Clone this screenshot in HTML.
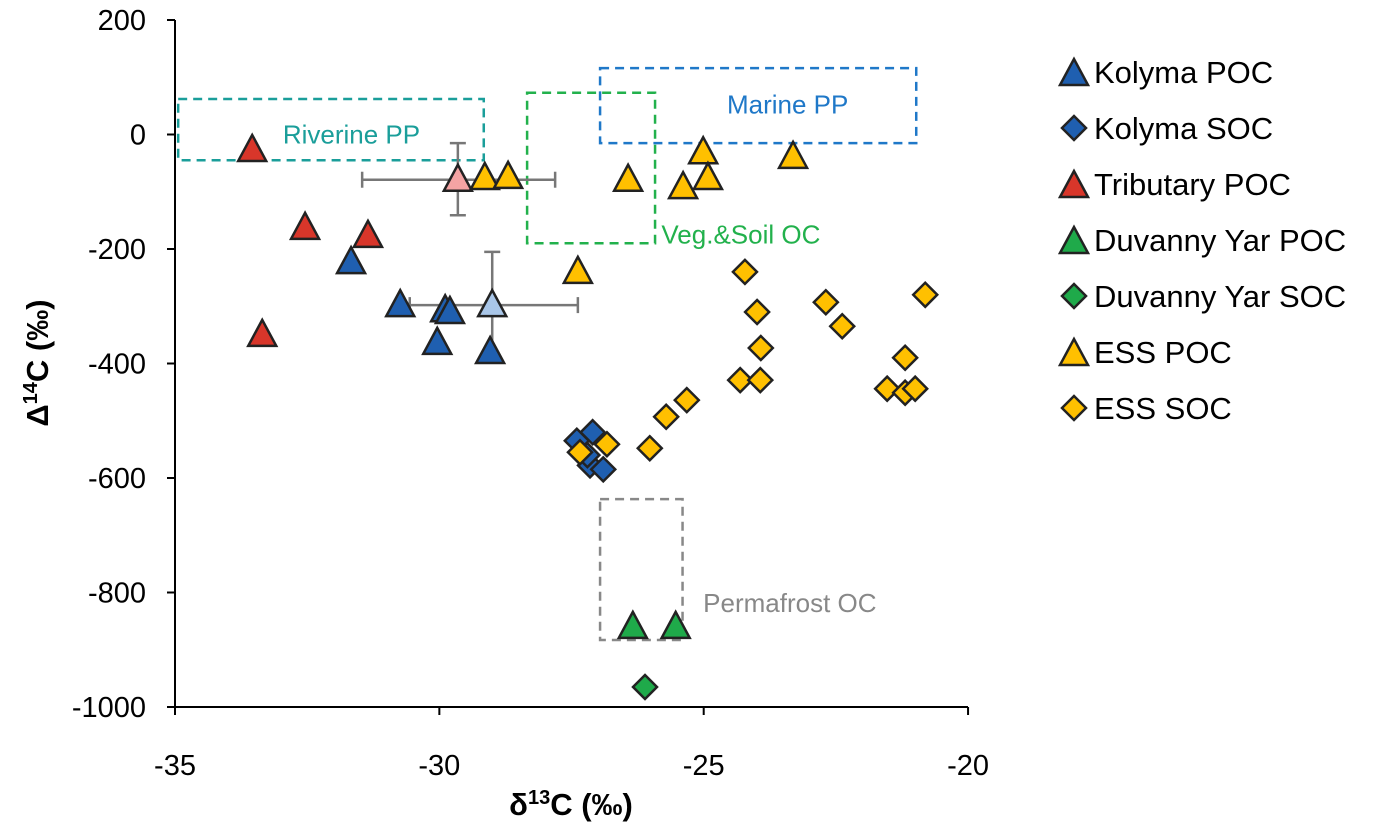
<!DOCTYPE html>
<html><head><meta charset="utf-8"><style>
body{margin:0;background:#fff;}
svg text{font-family:"Liberation Sans",sans-serif;}
</style></head><body>
<svg id="chart" width="1392" height="832" viewBox="0 0 1392 832"></svg>
<script>
const xTicks=[-35,-30,-25,-20];
const yTicks=[200,0,-200,-400,-600,-800,-1000];
const kolymaPOC=[[-31.67,-223],[-30.74,-298],[-29.89,-307],[-29.8,-310],[-30.04,-364],[-29.04,-380]];
const kolymaSOC=[[-27.4,-535],[-27.1,-520],[-27.15,-578],[-26.9,-585],[-27.2,-560]];
const tribPOC=[[-33.54,-27],[-32.54,-163],[-31.35,-177],[-33.35,-350]];
const dyPOC=[[-26.34,-860],[-25.53,-860]];
const dySOC=[[-26.11,-965]];
const essPOC=[[-29.14,-76],[-28.7,-74],[-26.43,-79],[-25.39,-92],[-25.01,-31],[-24.92,-76],[-23.31,-39],[-27.38,-240]];
const essSOC=[[-24.22,-240],[-23.99,-310],[-23.92,-373],[-24.31,-429],[-23.93,-429],[-22.69,-293],[-22.38,-335],[-21.19,-390],[-21.53,-444],[-21.19,-451],[-21.0,-444],[-20.81,-280],[-25.32,-464],[-25.71,-493],[-26.02,-548],[-26.83,-541],[-27.34,-555]];
const means=[{x:-29.65,y:-79,xlo:-31.46,xhi:-27.81,ylo:-141,yhi:-15,c:'#f4a3a3'},{x:-29.0,y:-298,xlo:-30.56,xhi:-27.38,ylo:-390,yhi:-205,c:'#a9c6e8'}];
const boxes=[{n:'Riverine PP',x0:-34.94,x1:-29.16,y0:-45,y1:62,c:'#1a9e9a',lx:-32.96,ly:0},{n:'Veg.&Soil OC',x0:-28.34,x1:-25.92,y0:-190,y1:73,c:'#22b14c',lx:-25.8,ly:-175},{n:'Marine PP',x0:-26.96,x1:-20.98,y0:-15,y1:116,c:'#1f78c8',lx:-24.56,ly:52},{n:'Permafrost OC',x0:-26.96,x1:-25.4,y0:-883,y1:-637,c:'#888',lx:-25.01,ly:-818}];
const X=v=>175+(v+35)*52.87, Y=v=>20+(200-v)*0.5725;
const s=document.getElementById('chart');const NS='http://www.w3.org/2000/svg';
function el(t,a,p){const e=document.createElementNS(NS,t);for(const k in a)e.setAttribute(k,a[k]);(p||s).appendChild(e);return e;}
boxes.forEach(b=>{const r=el('rect',{x:X(b.x0),y:Y(b.y1),width:X(b.x1)-X(b.x0),height:Y(b.y0)-Y(b.y1),fill:'none',stroke:b.c,'stroke-width':2.5,'stroke-dasharray':'9,6'});

const t=el('text',{x:X(b.lx),y:Y(b.ly)+9,'font-size':26,fill:b.c});t.textContent=b.n;
});
el('line',{x1:175,y1:20,x2:175,y2:707,stroke:'#000','stroke-width':2});
el('line',{x1:175,y1:707,x2:968,y2:707,stroke:'#000','stroke-width':2});
yTicks.forEach(v=>{el('line',{x1:167,x2:175,y1:Y(v),y2:Y(v),stroke:'#000','stroke-width':2});
const t=el('text',{x:146,y:Y(v)+10,'font-size':29,'text-anchor':'end'});t.textContent=v;
});
xTicks.forEach(v=>{el('line',{x1:X(v),x2:X(v),y1:707,y2:715,stroke:'#000','stroke-width':2});
const t=el('text',{x:X(v),y:775,'font-size':29,'text-anchor':'middle'});t.textContent=v;
});
const xt=el('text',{x:571,y:815,'font-size':31,'font-weight':'bold','text-anchor':'middle'});xt.innerHTML='δ<tspan baseline-shift="super" font-size="20">13</tspan>C (‰)';

const yt=el('text',{transform:'translate(48,363) rotate(-90)','font-size':31,'font-weight':'bold','text-anchor':'middle'});yt.innerHTML='Δ<tspan baseline-shift="super" font-size="20">14</tspan>C (‰)';

function tri(cx,cy,c,name,p){const e=el('polygon',{points:`${cx},${cy-15} ${cx-14},${cy+11} ${cx+14},${cy+11}`,fill:c,stroke:'#222','stroke-width':2.5},p);}
function dia(cx,cy,c,name,p){const e=el('polygon',{points:`${cx},${cy-12} ${cx+12},${cy} ${cx},${cy+12} ${cx-12},${cy}`,fill:c,stroke:'#222','stroke-width':2.5},p);}
const BL='#1f5fb0',RD='#d8362a',GR='#1faa4a',YL='#ffc000';
means.forEach(m=>{const g='#777';
el('line',{x1:X(m.xlo),x2:X(m.xhi),y1:Y(m.y),y2:Y(m.y),stroke:g,'stroke-width':2.5});
el('line',{x1:X(m.x),x2:X(m.x),y1:Y(m.ylo),y2:Y(m.yhi),stroke:g,'stroke-width':2.5});
[m.xlo,m.xhi].forEach(v=>el('line',{x1:X(v),x2:X(v),y1:Y(m.y)-8,y2:Y(m.y)+8,stroke:g,'stroke-width':2.5}));
[m.ylo,m.yhi].forEach(v=>el('line',{x1:X(m.x)-8,x2:X(m.x)+8,y1:Y(v),y2:Y(v),stroke:g,'stroke-width':2.5}));
tri(X(m.x),Y(m.y),m.c,'mean-point');});
tribPOC.forEach(d=>tri(X(d[0]),Y(d[1]),RD,'tributary-poc-point'));
kolymaPOC.forEach(d=>tri(X(d[0]),Y(d[1]),BL,'kolyma-poc-point'));
essPOC.forEach(d=>tri(X(d[0]),Y(d[1]),YL,'ess-poc-point'));
kolymaSOC.forEach(d=>dia(X(d[0]),Y(d[1]),BL,'kolyma-soc-point'));
essSOC.forEach(d=>dia(X(d[0]),Y(d[1]),YL,'ess-soc-point'));
dyPOC.forEach(d=>tri(X(d[0]),Y(d[1]),GR,'duvanny-yar-poc-point'));
dySOC.forEach(d=>dia(X(d[0]),Y(d[1]),GR,'duvanny-yar-soc-point'));
const leg=[['Kolyma POC',BL,'t'],['Kolyma SOC',BL,'d'],['Tributary POC',RD,'t'],['Duvanny Yar POC',GR,'t'],['Duvanny Yar SOC',GR,'d'],['ESS POC',YL,'t'],['ESS SOC',YL,'d']];
leg.forEach((l,i)=>{const y=72+i*56;const g=el('g',{});
if(l[2]=='t')tri(1074,y+2,l[1],'legend-marker',g);else dia(1074,y,l[1],'legend-marker',g);
const t=el('text',{x:1094,y:y+11,'font-size':31},g);t.textContent=l[0];});
</script>
</body></html>
